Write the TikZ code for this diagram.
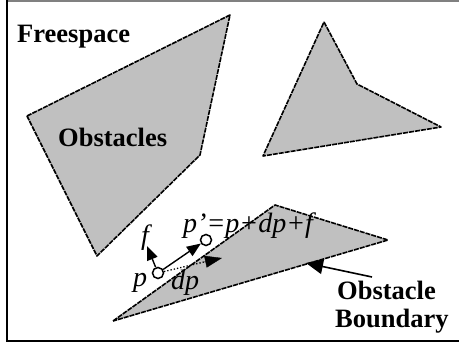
\documentclass[tikz,border=0pt]{standalone}
\usepackage{fontspec}
\setmainfont{Liberation Serif}
\usetikzlibrary{arrows.meta}
\begin{document}
\begin{tikzpicture}[x=1pt,y=-1pt,
  obst/.style={fill={rgb,255:red,192;green,192;blue,192},draw=black,line width=1.6pt,dash pattern=on 5pt off 1pt,line join=round},
  bold/.style={font=\fontsize{26.5}{26.5}\selectfont\bfseries,inner sep=0pt,anchor=base west},
  ital/.style={font=\fontsize{28}{28}\selectfont\itshape,inner sep=0pt,anchor=base west},
  circ/.style={circle,draw=black,fill=white,line width=1.5pt,minimum size=11pt,inner sep=0pt},
  arr/.style={line width=1.4pt,-{Triangle[length=14pt,width=11pt]}},
  frameb/.style={line width=2pt,black}]
\useasboundingbox (0,0) rectangle (459,345);
% frame
\draw[line width=1.5pt,gray] (6,1) -- (459,1);
\draw[frameb] (7,0) -- (7,341);
\draw[frameb] (6,341) -- (459,341);
% obstacles
\draw[obst] (27,116) -- (230,15) -- (200,155) -- (97,256) -- cycle;
\draw[obst] (324,22) -- (357,84) -- (441,127) -- (263,156) -- cycle;
\draw[obst] (113,321) -- (275,205) -- (388,240) -- cycle;
% labels
\node[bold] (free) at (17,43) {Freespace};
\node[bold] (obs) at (58,147) {Obstacles};
\node[bold] (ob1) at (337,300) {Obstacle};
\node[bold] (ob2) at (335,328) {Boundary};
% points
\node[circ] (p) at (158,273) {};
\node[circ] (pp) at (206,240) {};
\coordinate (ftip) at (147,246);
\coordinate (dpmid) at (204,262);
\coordinate (dptip) at (222,258);
\coordinate (btail) at (372,277);
\coordinate (btip) at (306,263);
\draw[arr] (p) -- (ftip);
\draw[line width=1.3pt,dotted] (p) -- (dpmid);
\draw[-{Triangle[length=17pt,width=12pt]}] (dpmid) -- (dptip);
\draw[arr] (p) -- (pp);
\draw[line width=1.6pt,-{Triangle[length=17pt,width=15pt]}] (btail) -- (btip);
\node[ital] (plbl) at (133,287) {p};
\node[ital] (flbl) at (141,245) {f};
\node[ital] (dplbl) at (171,290) {dp};
\node[ital] (pplbl) at (183,233) {p’=p+dp+f};
\end{tikzpicture}
\end{document}
